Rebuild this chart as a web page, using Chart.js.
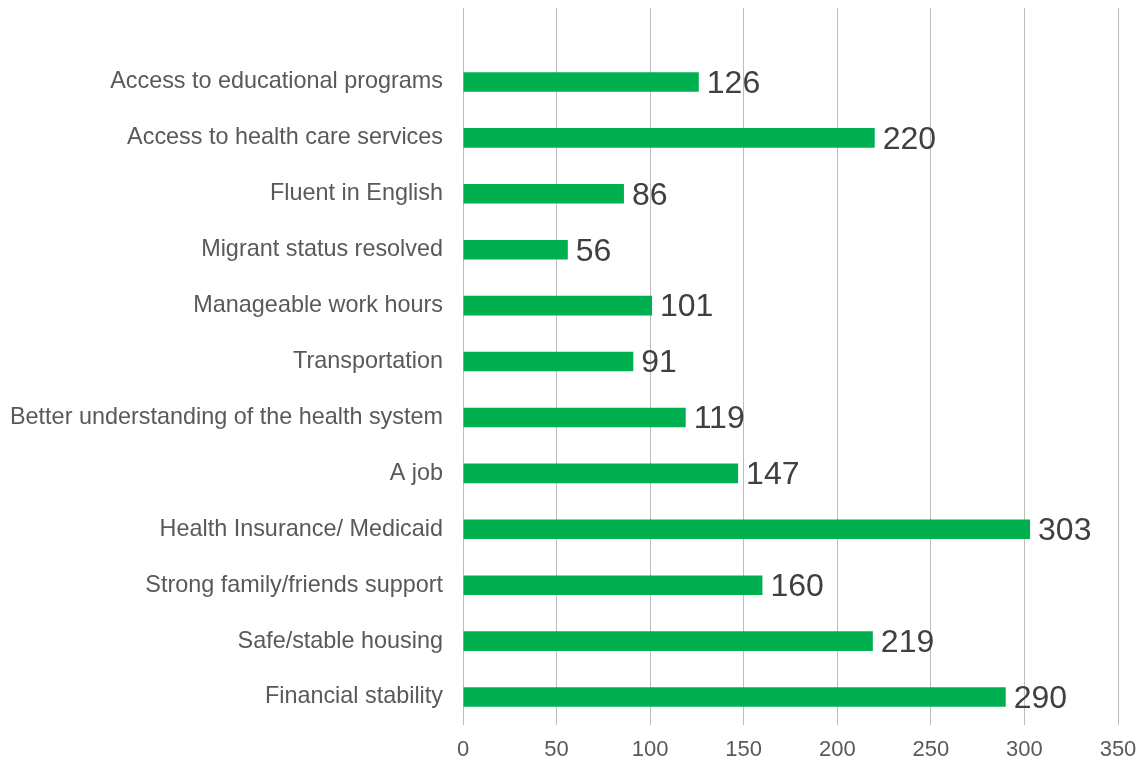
<!DOCTYPE html>
<html>
<head>
<meta charset="utf-8">
<script src="https://cdn.jsdelivr.net/npm/chart.js@4/dist/chart.umd.min.js"></script>
<style>
  html, body { margin: 0; padding: 0; background: #fff; }
  #wrap { width: 1142px; height: 766px; position: relative; }
</style>
</head>
<body>
<div id="wrap"><canvas id="chart"></canvas></div>
<script>
// Categories top to bottom, as in the picture
const categories = [
  "Access to educational programs",
  "Access to health care services",
  "Fluent in English",
  "Migrant status resolved",
  "Manageable work hours",
  "Transportation",
  "Better understanding of the health system",
  "A job",
  "Health Insurance/ Medicaid",
  "Strong family/friends support",
  "Safe/stable housing",
  "Financial stability"
];
const counts = [126, 220, 86, 56, 101, 91, 119, 147, 303, 160, 219, 290];
const xTicks = [0, 50, 100, 150, 200, 250, 300, 350];

const FONT = "'Liberation Sans', Arial, sans-serif";
const GRID = "#bdbdbd";

// Gridlines in the picture run above the first bar, up to near the top edge.
const gridTopExtension = {
  id: "gridTopExtension",
  beforeDatasetsDraw(chart) {
    const { ctx, chartArea, scales } = chart;
    ctx.save();
    ctx.strokeStyle = GRID;
    ctx.lineWidth = 1;
    xTicks.forEach((t) => {
      const x = Math.round(scales.x.getPixelForValue(t) - 0.5) + 0.5;
      ctx.beginPath();
      ctx.moveTo(x, 8);
      ctx.lineTo(x, chartArea.top);
      ctx.stroke();
    });
    ctx.restore();
  }
};

// Value labels at the end of each bar
const valueLabels = {
  id: "valueLabels",
  afterDatasetsDraw(chart) {
    const { ctx } = chart;
    const meta = chart.getDatasetMeta(0);
    ctx.save();
    ctx.font = "32px " + FONT;
    ctx.fillStyle = "#404040";
    ctx.textAlign = "left";
    ctx.textBaseline = "middle";
    meta.data.forEach((bar, i) => {
      ctx.fillText(String(counts[i]), bar.x + 8, bar.y + 2);
    });
    ctx.restore();
  }
};

new Chart(document.getElementById("chart"), {
  type: "bar",
  data: {
    labels: categories,
    datasets: [{
      data: counts,
      backgroundColor: "#00b050",
      borderWidth: 0,
      barPercentage: 0.35,
      categoryPercentage: 1
    }]
  },
  options: {
    indexAxis: "y",
    responsive: true,
    maintainAspectRatio: false,
    animation: false,
    layout: { padding: { top: 54, right: 24, left: 0, bottom: 0 } },
    plugins: {
      legend: { display: false },
      tooltip: { enabled: false }
    },
    scales: {
      x: {
        min: 0,
        max: 350,
        afterBuildTicks: (scale) => { scale.ticks = xTicks.map((v) => ({ value: v })); },
        afterFit: (scale) => {
          scale.height = 41;
          scale.paddingLeft = 0;
          scale.paddingRight = 0;
        },
        grid: { color: GRID, lineWidth: 1, drawTicks: false },
        border: { display: false },
        ticks: { padding: 12, color: "#595959", font: { family: FONT, size: 22 } }
      },
      y: {
        afterFit: (scale) => { scale.width = 463; },
        grid: { display: false, drawTicks: false },
        border: { display: false },
        ticks: { padding: 20, color: "#595959", font: { family: FONT, size: 23.4 } }
      }
    }
  },
  plugins: [gridTopExtension, valueLabels]
});
</script>
</body>
</html>
